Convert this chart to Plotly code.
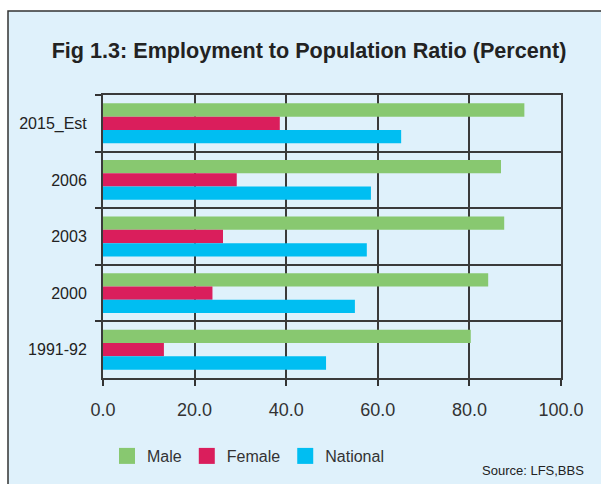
import plotly.graph_objects as go

# Survey years (top to bottom)
years = ["2015_Est", "2006", "2003", "2000", "1991-92"]

# Employment to population ratio (%) by group
male = [92.0, 86.9, 87.6, 84.1, 80.3]
female = [38.6, 29.2, 26.2, 23.9, 13.3]
national = [65.1, 58.5, 57.6, 55.0, 48.7]

x_ticks = [0, 20, 40, 60, 80, 100]

series = [
    ("Male", male, "#88C870"),
    ("Female", female, "#DA1E5C"),
    ("National", national, "#00BEF2"),
]

BG = "#DFF1FB"
INK = "#333333"
FONT = "Liberation Sans, Arial, sans-serif"

fig = go.Figure()
for name, vals, color in series:
    fig.add_trace(go.Bar(
        name=name, y=years, x=vals, orientation="h",
        marker=dict(color=color, line=dict(width=0)),
        showlegend=False, legendgroup=name,
    ))
# legend swatches (square markers)
for name, vals, color in series:
    fig.add_trace(go.Scatter(
        name=name, x=[None], y=[None], mode="markers",
        marker=dict(symbol="square", size=16, color=color),
        legendgroup=name, showlegend=True,
    ))

W, H = 601, 484
L, R, T, B = 103, 40, 95, 106
pw, ph = W - L - R, H - T - B

fig.update_layout(
    width=W, height=H,
    margin=dict(l=L, r=R, t=T, b=B, pad=0),
    paper_bgcolor="white",
    plot_bgcolor=BG,
    barmode="group", bargap=0.295, bargroupgap=0,
    font=dict(family=FONT, color=INK),
    title=dict(
        text="<b>Fig 1.3: Employment to Population Ratio (Percent)</b>",
        font=dict(size=21.6, color="#222222", family=FONT),
        x=309 / W, xref="container", xanchor="center",
        y=1 - 50 / H, yref="container", yanchor="middle",
    ),
    legend=dict(
        orientation="h", xref="container", yref="container",
        x=107 / W, xanchor="left", y=1 - 456 / H, yanchor="middle",
        font=dict(size=16, color=INK), bgcolor="rgba(0,0,0,0)",
    ),
    xaxis=dict(
        range=[0, 100], tickvals=x_ticks, tickformat=".1f",
        ticks="outside", ticklen=6, tickwidth=1.5, tickcolor=INK,
        ticklabelstandoff=8,
        tickfont=dict(size=18, color=INK),
        showgrid=True, gridcolor="#3a3a3a", gridwidth=1.8,
        showline=True, linecolor="#3a3a3a", linewidth=2, mirror=True,
        zeroline=False, fixedrange=True,
    ),
    yaxis=dict(
        type="category", categoryorder="array", categoryarray=years,
        autorange="reversed", tickson="boundaries",
        ticks="outside", ticklen=6, tickwidth=1.5, tickcolor=INK,
        ticklabelstandoff=11,
        tickfont=dict(size=16, color="#222222"),
        showgrid=True, gridcolor="#3a3a3a", gridwidth=1.8,
        showline=True, linecolor="#3a3a3a", linewidth=2, mirror=True,
        zeroline=False, fixedrange=True,
    ),
    shapes=[dict(
        type="rect", xref="paper", yref="paper", layer="below",
        x0=(8 - L) / pw, x1=2.0, y0=-2.0, y1=(H - B - 11) / ph,
        fillcolor=BG, line=dict(color=INK, width=1.5),
    )],
    annotations=[dict(
        text="Source: LFS,BBS", xref="paper", yref="paper",
        x=(586 - L) / pw, y=(H - B - 470) / ph,
        xanchor="right", yanchor="middle", showarrow=False,
        font=dict(size=13, color="#222222", family=FONT),
    )],
)

fig.write_html("out.html")
